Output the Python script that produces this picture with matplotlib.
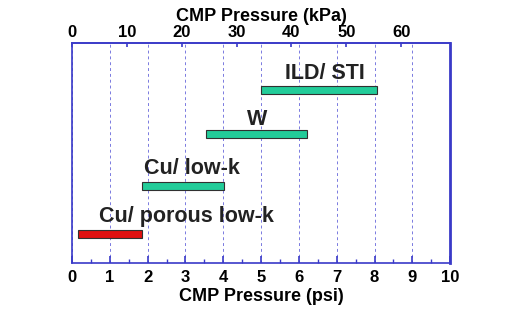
import matplotlib.pyplot as plt
from matplotlib.ticker import MultipleLocator

# process windows in psi
labels = ["Cu/ porous low-k", "Cu/ low-k", "W", "ILD/ STI"]
starts = [0.16, 1.85, 3.54, 5.0]
ends = [1.85, 4.02, 6.21, 8.06]
levels = [1.3, 3.5, 5.85, 7.85]
colors = ["#e01010", "#22cc99", "#22cc99", "#22cc99"]
label_x = [0.71, 1.9, 4.9, 5.63]
label_y = [2.12, 4.3, 6.5, 8.62]
label_ha = ["left", "left", "center", "left"]

psi_ticks = list(range(0, 11))
kpa_ticks = [0, 10, 20, 30, 40, 50, 60]
PSI_TO_KPA = 6.895

plt.rcParams['font.family'] = ['Liberation Sans', 'DejaVu Sans']
blue = "#3a3ac8"

fig = plt.figure(figsize=(5.29, 3.09), dpi=100)
ax = fig.add_axes([0.136, 0.149, 0.715, 0.712])

for s, e, y, c in zip(starts, ends, levels, colors):
    ax.barh(y, e - s, left=s, height=0.36, color=c, edgecolor="#303030", linewidth=0.8, zorder=3)
for lab, x, y, ha in zip(labels, label_x, label_y, label_ha):
    ax.text(x, y, lab, ha=ha, va="center", fontsize=15.5, fontweight="bold", color="#222222", zorder=4)

ax.set_xlim(0, 10)
ax.set_ylim(0, 10)
ax.set_yticks([])
ax.set_xticks(psi_ticks)
ax.xaxis.set_minor_locator(MultipleLocator(0.5))
ax.tick_params(axis="x", which="major", direction="in", length=5, width=1.2, color=blue,
               labelsize=12, pad=5)
ax.tick_params(axis="x", which="minor", direction="in", length=3, width=1, color=blue)
for t in ax.get_xticklabels():
    t.set_fontweight("bold")
ax.grid(True, axis="x", which="major", linestyle=(0, (3, 3)), color="#7a7ae0", linewidth=0.7)
for side in ["left", "bottom", "top"]:
    ax.spines[side].set_color(blue)
    ax.spines[side].set_linewidth(1.2)
ax.spines["right"].set_color(blue)
ax.spines["right"].set_linewidth(2)
ax.set_xlabel("CMP Pressure (psi)", fontsize=13, fontweight="bold", labelpad=2)

top = ax.secondary_xaxis("top", functions=(lambda p: p * PSI_TO_KPA, lambda k: k / PSI_TO_KPA))
top.set_xticks(kpa_ticks)
top.tick_params(axis="x", direction="in", length=3, width=1.2, color=blue, labelsize=12, pad=2)
for t in top.get_xticklabels():
    t.set_fontweight("bold")
top.spines["top"].set_color(blue)
top.spines["top"].set_linewidth(1.2)
top.set_xlabel("CMP Pressure (kPa)", fontsize=13, fontweight="bold", labelpad=3)

fig.savefig("out.png", dpi=100, facecolor="white")
